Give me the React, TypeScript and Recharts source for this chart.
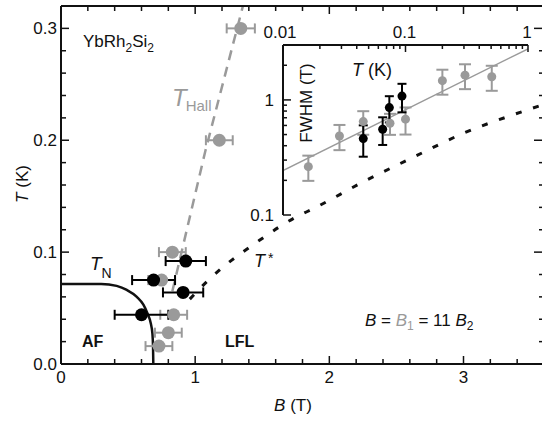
import React from 'react';
import { ComposedChart, XAxis, YAxis, Scatter, Line, ErrorBar } from 'recharts';

const FONT = '"Liberation Sans", Arial, Helvetica, sans-serif';
const GRAY = '#9a9a9a';
const INK = '#111';

// ---- main panel: B (T) against T (K) ----
const hallB = [1.34, 1.18, 0.83, 0.75, 0.84, 0.80, 0.73];
const hallT = [0.300, 0.200, 0.100, 0.075, 0.044, 0.028, 0.016];
const hallErr = [0.105, 0.1, 0.1, 0.1, 0.1, 0.1, 0.1];

const blackB = [0.93, 0.69, 0.91, 0.60];
const blackT = [0.092, 0.075, 0.064, 0.044];
const blackErr = [0.15, 0.16, 0.15, 0.2];

const tnB = [0, 0.3, 0.415, 0.49, 0.565, 0.614, 0.644, 0.669, 0.681, 0.686, 0.688];
const tnT = [0.0716, 0.0716, 0.0698, 0.0662, 0.060, 0.053, 0.0454, 0.0364, 0.0275, 0.0155, 0];

const hallLineB = [0.83, 1.075, 1.356];
const hallLineT = [0.065, 0.19, 0.32];

const starB = [0.96, 1.112, 1.237, 1.36, 1.485, 1.62, 1.746, 1.883, 2.256, 2.629, 3.002, 3.375, 3.6];
const starT = [0.058, 0.0765, 0.0895, 0.1005, 0.111, 0.122, 0.131, 0.139, 0.163, 0.185, 0.2064, 0.223, 0.232];

const bTicks = [0, 0.2, 0.4, 0.6, 0.8, 1, 1.2, 1.4, 1.6, 1.8, 2, 2.2, 2.4, 2.6, 2.8, 3, 3.2, 3.4];
const bMajor = [0, 1, 2, 3];
const tTicks = [0, 0.02, 0.04, 0.06, 0.08, 0.1, 0.12, 0.14, 0.16, 0.18, 0.2, 0.22, 0.24, 0.26, 0.28, 0.3];
const tMajor = [0, 0.1, 0.2, 0.3];
const tLabels: Record<number, string> = { 0: '0.0', 0.1: '0.1', 0.2: '0.2', 0.3: '0.3' };

// ---- inset: T (K) against FWHM (T), log-log ----
const insetGrayT = [0.0161, 0.0289, 0.0452, 0.0747, 0.1, 0.2, 0.306, 0.506];
const insetGrayW = [0.263, 0.486, 0.648, 0.627, 0.68, 1.47, 1.64, 1.59];
const insetGrayErr = [0.065, 0.12, 0.15, 0.13, 0.18, 0.36, 0.4, 0.39];

const insetBlackT = [0.0452, 0.0651, 0.0738, 0.0936];
const insetBlackW = [0.461, 0.556, 0.857, 1.08];
const insetBlackErr = [0.14, 0.15, 0.22, 0.3];

const fitT = [0.01, 1];
const fitW = [0.243, 2.78];

const logTTicks = [0.01, 0.02, 0.03, 0.04, 0.05, 0.06, 0.07, 0.08, 0.09, 0.1, 0.2, 0.3, 0.4, 0.5, 0.6, 0.7, 0.8, 0.9, 1];
const logTMajor = [0.01, 0.1, 1];
const logWTicks = [0.1, 0.2, 0.3, 0.4, 0.5, 0.6, 0.7, 0.8, 0.9, 1, 2, 3];
const logWMajor = [0.1, 1];

const zip2 = (xs: number[], ys: number[], xk: string, yk: string) => xs.map((x, i) => ({ [xk]: x, [yk]: ys[i] }));
const zip3 = (xs: number[], ys: number[], es: number[], xk: string, yk: string) =>
  xs.map((x, i) => ({ [xk]: x, [yk]: ys[i], err: es[i] }));

const hallPts = zip3(hallB, hallT, hallErr, 'b', 't');
const blackPts = zip3(blackB, blackT, blackErr, 'b', 't');
const tnData = zip2(tnB, tnT, 'b', 't');
const hallLine = zip2(hallLineB, hallLineT, 'b', 't');
const starData = zip2(starB, starT, 'b', 't');

const inGray = zip3(insetGrayT, insetGrayW, insetGrayErr, 'k', 'w');
const inBlack = zip3(insetBlackT, insetBlackW, insetBlackErr, 'k', 'w');
const fitData = zip2(fitT, fitW, 'k', 'w');

const isMajor = (v: number, majors: number[]) => majors.some((m) => Math.abs(m - v) < 1e-9);

// tick renderers: tickSize/tickMargin are 0, so x,y sit on the axis line
const bottomTick = (p: any) => {
  const v = p.payload.value;
  const maj = isMajor(v, bMajor);
  return (
    <g>
      <line x1={p.x} x2={p.x} y1={p.y} y2={p.y - (maj ? 8 : 5)} stroke={INK} strokeWidth={1.5} />
      {maj && (
        <text x={p.x} y={p.y + 19} textAnchor="middle" fontSize={17} fontFamily={FONT} fill={INK}>
          {v}
        </text>
      )}
    </g>
  );
};
const topTick = (p: any) => {
  const maj = isMajor(p.payload.value, bMajor);
  return <line x1={p.x} x2={p.x} y1={p.y} y2={p.y + (maj ? 8 : 5)} stroke={INK} strokeWidth={1.5} />;
};
const leftTick = (p: any) => {
  const v = p.payload.value;
  const maj = isMajor(v, tMajor);
  return (
    <g>
      <line x1={p.x} x2={p.x + (maj ? 8 : 5)} y1={p.y} y2={p.y} stroke={INK} strokeWidth={1.5} />
      {maj && (
        <text x={p.x - 4} y={p.y + 6} textAnchor="end" fontSize={17} fontFamily={FONT} fill={INK}>
          {tLabels[v]}
        </text>
      )}
    </g>
  );
};
const rightTick = (p: any) => {
  const maj = isMajor(p.payload.value, tMajor);
  return <line x1={p.x} x2={p.x - (maj ? 10 : 5)} y1={p.y} y2={p.y} stroke={INK} strokeWidth={1.5} />;
};
const insetTopTick = (p: any) => {
  const v = p.payload.value;
  const maj = isMajor(v, logTMajor);
  return (
    <g>
      <line x1={p.x} x2={p.x} y1={p.y} y2={p.y + (maj ? 7 : 4)} stroke={INK} strokeWidth={1.5} />
      {maj && (
        <text x={p.x - (v === 0.01 ? 3 : 1)} y={p.y - 7} textAnchor="middle" fontSize={17} fontFamily={FONT} fill={INK}>
          {String(v)}
        </text>
      )}
    </g>
  );
};
const insetLeftTick = (p: any) => {
  const v = p.payload.value;
  const maj = isMajor(v, logWMajor);
  return (
    <g>
      <line x1={p.x} x2={p.x + (maj ? 8 : 4)} y1={p.y} y2={p.y} stroke={INK} strokeWidth={1.5} />
      {maj && (
        <text x={p.x - 9} y={p.y + 6} textAnchor="end" fontSize={17} fontFamily={FONT} fill={INK}>
          {String(v)}
        </text>
      )}
    </g>
  );
};

const dot = (r: number, fill: string) => (p: any) => <circle cx={p.cx} cy={p.cy} r={r} fill={fill} />;

export default function App() {
  return (
    <div style={{ position: 'fixed', left: 0, top: 0, width: 542, height: 422, overflow: 'hidden', background: '#fff' }}>
      <div style={{ position: 'absolute', left: 0, top: 0 }}>
        <ComposedChart width={547} height={422} margin={{ top: 0, right: 2, bottom: 0, left: 0 }}>
          <XAxis
            dataKey="b" type="number" domain={[0, 3.6]} allowDataOverflow ticks={bTicks} interval={0}
            height={58} tickSize={0} tickMargin={0} tick={bottomTick} tickLine={false}
            axisLine={{ stroke: INK, strokeWidth: 2 }}
          />
          <XAxis
            xAxisId="top" orientation="top" dataKey="b" type="number" domain={[0, 3.6]} allowDataOverflow
            ticks={bTicks} interval={0} height={6} tickSize={0} tickMargin={0} tick={topTick} tickLine={false}
            axisLine={{ stroke: INK, strokeWidth: 2 }}
          />
          <YAxis
            dataKey="t" type="number" domain={[0, 0.32]} allowDataOverflow ticks={tTicks} interval={0}
            width={61} tickSize={0} tickMargin={0} tick={leftTick} tickLine={false}
            axisLine={{ stroke: INK, strokeWidth: 2 }}
          />
          <YAxis
            yAxisId="right" orientation="right" dataKey="t" type="number" domain={[0, 0.32]} allowDataOverflow
            ticks={tTicks} interval={0} width={1} tickSize={0} tickMargin={0} tick={rightTick} tickLine={false}
            axisLine={{ stroke: INK, strokeWidth: 2 }}
          />
          <Line data={starData} dataKey="t" type="monotone" stroke={INK} strokeWidth={3} strokeDasharray="6 12" dot={false} isAnimationActive={false} />
          <Line data={hallLine} dataKey="t" type="linear" stroke={GRAY} strokeWidth={2.5} strokeDasharray="10 7" dot={false} isAnimationActive={false} />
          <Line data={tnData} dataKey="t" type="monotone" stroke={INK} strokeWidth={2.5} dot={false} isAnimationActive={false} />
          <Scatter data={hallPts} dataKey="t" shape={dot(6.5, GRAY)} isAnimationActive={false}>
            <ErrorBar dataKey="err" direction="x" width={5} stroke={GRAY} strokeWidth={2} />
          </Scatter>
          <Scatter data={blackPts} dataKey="t" shape={dot(6.5, '#000')} isAnimationActive={false}>
            <ErrorBar dataKey="err" direction="x" width={5} stroke="#000" strokeWidth={2} />
          </Scatter>
        </ComposedChart>
      </div>

      <div style={{ position: 'absolute', left: 240, top: 20 }}>
        <ComposedChart width={300} height={210} margin={{ top: 0, right: 12, bottom: 15, left: 0 }}>
          <XAxis
            orientation="top" dataKey="k" type="number" scale="log" domain={[0.01, 1]} allowDataOverflow
            ticks={logTTicks} interval={0} height={25} tickSize={0} tickMargin={0} tick={insetTopTick} tickLine={false}
            axisLine={{ stroke: INK, strokeWidth: 2 }}
          />
          <YAxis
            dataKey="w" type="number" scale="log" domain={[0.1, 3]} allowDataOverflow
            ticks={logWTicks} interval={0} width={43} tickSize={0} tickMargin={0} tick={insetLeftTick} tickLine={false}
            axisLine={{ stroke: INK, strokeWidth: 2 }}
          />
          <Line data={fitData} dataKey="w" type="linear" stroke={GRAY} strokeWidth={1.5} dot={false} isAnimationActive={false} />
          <Scatter data={inGray} dataKey="w" shape={dot(4.5, GRAY)} isAnimationActive={false}>
            <ErrorBar dataKey="err" direction="y" width={6} stroke={GRAY} strokeWidth={2} />
          </Scatter>
          <Scatter data={inBlack} dataKey="w" shape={dot(4.5, '#000')} isAnimationActive={false}>
            <ErrorBar dataKey="err" direction="y" width={4.5} stroke="#000" strokeWidth={2} />
          </Scatter>
        </ComposedChart>
      </div>

      <svg width={542} height={422} style={{ position: 'absolute', left: 0, top: 0, pointerEvents: 'none' }} fontFamily={FONT} fill={INK}>
        <text x={83} y={47} fontSize={17}>
          YbRh<tspan fontSize={12} dy={5}>2</tspan>
          <tspan dy={-5}>Si</tspan>
          <tspan fontSize={12} dy={5}>2</tspan>
        </text>
        <text x={172} y={106} fontSize={24} fill={GRAY}>
          <tspan fontStyle="italic">T</tspan>
          <tspan fontSize={15} dx={-1} dy={5}>Hall</tspan>
        </text>
        <text x={90} y={270} fontSize={19}>
          <tspan fontStyle="italic">T</tspan>
          <tspan fontSize={14} dx={0} dy={8}>N</tspan>
        </text>
        <text x={254} y={267} fontSize={18}>
          <tspan fontStyle="italic">T</tspan>
          <tspan fontSize={14} dx={3} dy={-4}>*</tspan>
        </text>
        <text x={82} y={347} fontSize={16} fontWeight="bold">AF</text>
        <text x={225} y={347} fontSize={16} fontWeight="bold">LFL</text>
        <text x={365} y={326} fontSize={17}>
          <tspan fontStyle="italic">B</tspan>
          <tspan>{' = '}</tspan>
          <tspan fontStyle="italic" fill={GRAY}>B</tspan>
          <tspan fontSize={12} dy={4} fill={GRAY}>1</tspan>
          <tspan dy={-4}>{' = 11 '}</tspan>
          <tspan fontStyle="italic">B</tspan>
          <tspan fontSize={12} dy={4}>2</tspan>
        </text>
        <text transform="translate(28,184) rotate(-90)" textAnchor="middle" fontSize={17}>
          <tspan fontStyle="italic">T</tspan>
          <tspan>{'  (K)'}</tspan>
        </text>
        <text x={293} y={411} textAnchor="middle" fontSize={17}>
          <tspan fontStyle="italic">B</tspan>
          <tspan>{'  (T)'}</tspan>
        </text>
        <text x={352} y={76} fontSize={18}>
          <tspan fontStyle="italic">T</tspan>
          <tspan>{' (K)'}</tspan>
        </text>
        <text transform="translate(312,103) rotate(-90)" textAnchor="middle" fontSize={17}>FWHM (T)</text>
      </svg>
    </div>
  );
}
